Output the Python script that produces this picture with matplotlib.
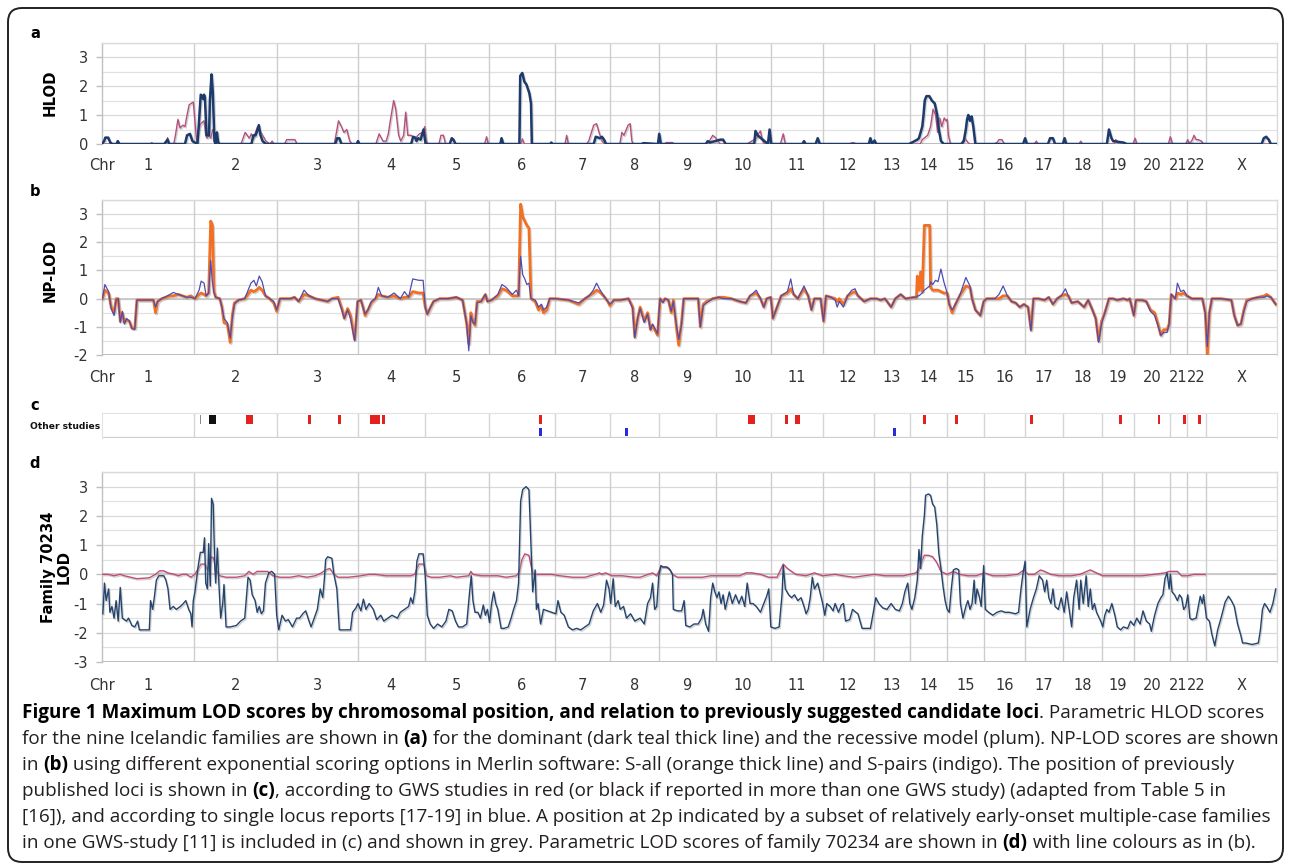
import numpy as np
import matplotlib
matplotlib.use("Agg")
import matplotlib.pyplot as plt
from matplotlib import transforms, font_manager
from matplotlib.patches import FancyBboxPatch
import matplotlib.patheffects as pe

plt.rcParams['axes.unicode_minus'] = False
plt.rcParams['font.family'] = ['DejaVu Sans']

# ---------------- data ----------------
chrom_names = ['1', '2', '3', '4', '5', '6', '7', '8', '9', '10', '11', '12', '13',
               '14', '15', '16', '17', '18', '19', '20', '21', '22', 'X']
# relative map length of each chromosome (genome map units)
chrom_len = [222, 200, 195, 161, 154, 159, 133, 118, 137, 133, 125, 123, 87,
             89, 89, 99, 92, 94, 77, 87, 41, 46, 171]

# (a) HLOD, dominant model
hlod_dominant = [
    (0, 0), (5, 0.1), (8, 0.22), (15, 0.22), (20, 0.05), (25, 0), (35, 0), (38, 0.1), (42, 0),
    (150, 0), (158, 0.15), (162, 0), (200, 0), (205, 0.3), (212, 0.35), (218, 0.1), (230, 0),
    (233, 0.6), (238, 1.7), (242, 1.65), (244, 1.55), (246, 1.7), (248, 1.6), (252, 0.3),
    (258, 0.3), (260, 1.5), (264, 2.4), (267, 1.8), (271, 0.1), (274, 0.0), (277, 0.4),
    (280, 0.05), (284, 0), (360, 0), (365, 0.3), (370, 0.3), (374, 0.45), (378, 0.65),
    (382, 0.3), (387, 0.1), (395, 0), (562, 0), (567, 0.2), (572, 0.2), (577, 0), (615, 0),
    (617, 0.1), (620, 0), (745, 0), (750, 0.25), (755, 0.22), (758, 0.1), (762, 0.2),
    (768, 0.15), (775, 0.5), (777, 0.3), (780, 0), (838, 0), (843, 0.2), (847, 0.15), (852, 0),
    (960, 0), (963, 0.2), (967, 0), (1006, 0), (1008, 2.35), (1013, 2.45), (1018, 2.15),
    (1023, 2.05), (1030, 1.75), (1034, 1.4), (1036, 0), (1080, 0), (1083, 0.05), (1086, 0),
    (1185, 0), (1190, 0.25), (1200, 0.2), (1205, 0.25), (1210, 0.15), (1215, 0), (1300, 0),
    (1305, 0.03), (1340, 0), (1343, 0.35), (1347, 0), (1455, 0), (1460, 0.1), (1465, 0.05),
    (1490, 0.15), (1497, 0.15), (1503, 0), (1572, 0), (1575, 0.45), (1580, 0.3), (1605, 0),
    (1609, 0.5), (1613, 0), (1688, 0), (1692, 0.1), (1696, 0), (1720, 0), (1725, 0.2),
    (1730, 0), (1848, 0), (1852, 0.2), (1856, 0.0), (1862, 0.12), (1866, 0), (1945, 0),
    (1952, 0.05), (1965, 0.15), (1969, 0.2), (1975, 0.5), (1977, 0.6), (1980, 1.0),
    (1983, 1.5), (1987, 1.65), (1994, 1.65), (2000, 1.5), (2007, 1.4), (2013, 1.0),
    (2017, 0.5), (2022, 0.1), (2029, 0), (2072, 0), (2077, 0.1), (2082, 0.5), (2085, 0.85),
    (2088, 1.0), (2092, 0.8), (2096, 0.95), (2100, 0.6), (2105, 0), (2220, 0), (2225, 0.2),
    (2229, 0), (2280, 0), (2285, 0.2), (2292, 0.2), (2297, 0), (2316, 0), (2320, 0.2),
    (2324, 0), (2422, 0), (2427, 0.5), (2433, 0.2), (2437, 0.1), (2447, 0.08), (2462, 0.05),
    (2470, 0), (2795, 0), (2800, 0.2), (2806, 0.25), (2812, 0.15), (2817, 0), (2832, 0)]

# (a) HLOD, recessive model
hlod_recessive = [
    (0, 0), (118, 0), (120, 0.05), (123, 0), (155, 0), (158, 0.22), (161, 0), (173, 0),
    (177, 0.3), (183, 0.85), (188, 0.55), (195, 0.65), (200, 0.6), (205, 1.0), (210, 1.35),
    (215, 1.4), (220, 1.45), (225, 0.6), (228, 0.1), (233, 0.5), (238, 0.7), (242, 0.75),
    (246, 0.8), (250, 0.3), (253, 0.2), (258, 0.3), (262, 0.2), (267, 0.5), (271, 0.4),
    (277, 0.05), (280, 0), (335, 0), (345, 0.4), (355, 0.2), (360, 0.35), (365, 0.2),
    (375, 0.6), (385, 0.35), (395, 0.1), (405, 0), (410, 0.1), (415, 0), (440, 0), (445, 0.15),
    (465, 0.15), (470, 0), (560, 0), (570, 0.8), (577, 0.6), (583, 0.4), (590, 0.5), (597, 0.1),
    (603, 0), (612, 0), (617, 0.1), (620, 0), (660, 0), (668, 0.35), (677, 0.1), (685, 0.1),
    (690, 0.35), (696, 0.9), (703, 1.5), (708, 1.2), (715, 0.3), (720, 0.1), (727, 0.3),
    (732, 1.1), (737, 0.3), (745, 0.3), (755, 0.2), (765, 0.35), (773, 0.4), (778, 0.6),
    (782, 0.1), (786, 0), (812, 0), (817, 0.3), (823, 0.3), (828, 0), (922, 0), (927, 0.25),
    (931, 0), (960, 0), (963, 0.15), (966, 0), (1010, 0), (1013, 0.18), (1018, 0), (1116, 0),
    (1120, 0.3), (1124, 0), (1168, 0), (1173, 0.1), (1185, 0.65), (1192, 0.7), (1198, 0.4),
    (1205, 0.1), (1212, 0), (1248, 0), (1253, 0.4), (1258, 0.3), (1268, 0.65), (1273, 0.7),
    (1277, 0.1), (1281, 0), (1355, 0), (1360, 0.05), (1375, 0.05), (1380, 0), (1460, 0),
    (1472, 0.3), (1480, 0.2), (1487, 0.05), (1490, 0), (1555, 0), (1560, 0.05), (1578, 0.2),
    (1582, 0.35), (1587, 0.45), (1592, 0.1), (1597, 0), (1635, 0), (1642, 0.35), (1647, 0),
    (1800, 0), (1810, 0.05), (1820, 0), (1972, 0), (1977, 0.15), (1990, 0.3), (1997, 0.6),
    (2003, 1.2), (2009, 1.0), (2014, 0.4), (2019, 0.9), (2024, 0.6), (2030, 0.9), (2034, 0.8),
    (2037, 0.85), (2040, 0.3), (2045, 0), (2070, 0), (2077, 0.15), (2080, 0.2), (2087, 0.05),
    (2092, 0), (2150, 0), (2157, 0.05), (2162, 0.15), (2169, 0.15), (2175, 0), (2247, 0),
    (2252, 0.1), (2256, 0), (2355, 0), (2359, 0.1), (2363, 0), (2440, 0), (2443, 0.15),
    (2447, 0.1), (2450, 0), (2485, 0), (2490, 0.2), (2494, 0), (2570, 0), (2575, 0.25),
    (2580, 0), (2612, 0), (2617, 0.15), (2621, 0), (2628, 0.15), (2632, 0.3), (2637, 0.15),
    (2642, 0.15), (2650, 0.1), (2655, 0), (2832, 0)]

# (b) NP-LOD: (position, S-all, S-pairs)
nplod_points = [
    (1, 0, 0), (7, 0.3, 0.5), (16, 0.2, 0.25), (22, -0.3, -0.35), (29, -0.5, -0.6), (34, 0, -0.05),
    (39, 0, 0), (44, -0.8, -0.85), (49, -0.5, -0.45), (54, -0.85, -0.9), (59, -0.75, -0.7),
    (66, -0.8, -0.8), (72, -1.05, -1.05), (79, -1.05, -1.1), (84, -0.05, -0.05), (124, -0.05, -0.05),
    (129, -0.5, -0.3), (134, -0.1, -0.1), (144, 0, 0), (164, 0.1, 0.15), (172, 0.1, 0.22),
    (184, 0.15, 0.15), (194, 0.1, 0.1), (204, 0.05, 0.05), (214, 0.1, 0.05), (224, 0, 0),
    (234, 0.15, 0.3), (239, 0.2, 0.62), (246, 0.15, 0.55), (251, 0.1, 0.1), (257, 0.2, 0.2),
    (262, 2.75, 1.35), (266, 2.6, 0.6), (270, 0.25, 0.2), (274, 0.05, 0.05), (284, 0, 0),
    (289, -0.3, -0.3), (294, -0.85, -0.7), (302, -0.9, -0.85), (309, -1.55, -1.4), (314, -0.6, -0.7),
    (319, -0.15, -0.2), (329, -0.05, -0.05), (344, 0, 0), (359, 0.3, 0.55), (366, 0.25, 0.65),
    (372, 0.3, 0.45), (379, 0.4, 0.8), (386, 0.3, 0.6), (394, 0.1, 0.1), (404, 0, 0),
    (414, -0.15, -0.1), (421, -0.45, -0.4), (429, 0, 0), (454, 0, 0), (464, 0.05, 0.05),
    (474, -0.1, -0.1), (487, 0.15, 0.3), (499, 0.1, 0.1), (514, 0, 0), (544, -0.1, -0.1),
    (554, 0, 0), (569, 0.05, 0), (579, -0.4, -0.45), (584, -0.7, -0.7), (592, -0.35, -0.4),
    (599, -0.6, -0.7), (609, -1.45, -1.5), (616, -0.1, -0.1), (624, -0.05, -0.05), (629, -0.3, -0.3),
    (634, -0.6, -0.55), (641, -0.4, -0.4), (649, -0.15, -0.1), (659, 0, 0), (666, 0.15, 0.4),
    (674, 0.1, 0.1), (689, 0.05, 0.05), (704, 0.1, 0.2), (719, 0, 0), (729, 0.05, 0.25),
    (739, 0.05, 0.05), (749, 0.25, 0.7), (764, 0.2, 0.65), (774, 0.2, 0.65), (779, -0.3, -0.3),
    (784, -0.55, -0.55), (792, -0.3, -0.3), (799, -0.1, -0.1), (814, 0, 0), (834, 0, 0),
    (854, 0.05, 0.05), (869, -0.05, -0.05), (879, -0.9, -0.9), (884, -1.6, -1.85), (889, -0.5, -0.6),
    (894, -0.8, -0.85), (899, -0.95, -0.9), (904, -0.1, -0.15), (914, -0.1, -0.1), (924, 0.15, 0.15),
    (929, -0.1, -0.1), (939, -0.05, -0.05), (954, 0.1, 0.15), (964, 0.35, 0.5), (974, 0.3, 0.4),
    (989, 0.1, 0.15), (999, 0.1, 0.3), (1004, 0.1, 0.1), (1009, 3.35, 1.5), (1014, 2.9, 0.85),
    (1019, 2.75, 0.7), (1024, 2.6, 0.5), (1029, 2.5, 0.55), (1034, 0, 0), (1044, -0.1, -0.05),
    (1052, -0.4, -0.3), (1059, -0.25, -0.2), (1064, -0.5, -0.4), (1072, -0.4, -0.3), (1079, 0, 0),
    (1094, 0, 0), (1124, -0.05, -0.05), (1149, -0.2, -0.15), (1164, 0, 0), (1174, 0.1, 0.1),
    (1184, 0.2, 0.3), (1192, 0.3, 0.55), (1199, 0.25, 0.35), (1209, 0.1, 0.1), (1219, -0.1, -0.1),
    (1224, -0.25, -0.2), (1234, -0.05, -0.05), (1249, -0.05, -0.05), (1269, 0, 0), (1279, -0.3, -0.35),
    (1284, -1.35, -1.4), (1291, -0.7, -0.7), (1297, -0.3, -0.35), (1307, -0.8, -0.85), (1315, -0.5, -0.55),
    (1322, -1.1, -1.1), (1327, -0.95, -0.9), (1332, -1.1, -1.05), (1339, -1.3, -1.25), (1345, 0, 0),
    (1352, -0.1, -0.15), (1357, 0, 0), (1365, -0.05, -0.05), (1372, -0.5, -0.45), (1377, -0.05, -0.1),
    (1385, -1.1, -1.0), (1390, -1.65, -1.45), (1397, -0.8, -0.9), (1402, 0, 0), (1437, 0, 0),
    (1442, -1.0, -1.0), (1449, -0.2, -0.25), (1457, -0.1, -0.15), (1472, 0, 0), (1487, 0.05, 0.05),
    (1497, 0.05, 0), (1517, 0, 0), (1537, -0.1, -0.1), (1552, -0.15, -0.15), (1562, 0.1, 0.1),
    (1577, 0.2, 0.3), (1587, 0, 0), (1595, -0.3, -0.3), (1602, 0, 0), (1612, 0.05, 0.05),
    (1617, -0.7, -0.7), (1622, -0.5, -0.5), (1637, 0.1, 0.1), (1652, 0.2, 0.25), (1660, 0.35, 0.7),
    (1667, 0.15, 0.15), (1677, 0, 0), (1692, 0.35, 0.45), (1702, 0.1, 0.1), (1710, -0.4, -0.4),
    (1717, 0, 0), (1732, 0, 0), (1739, -0.8, -0.8), (1745, 0.1, 0.1), (1757, 0.05, 0.05),
    (1767, 0, -0.05), (1772, -0.1, -0.3), (1777, 0, -0.1), (1787, -0.2, -0.3), (1797, 0.1, 0.1),
    (1807, 0.2, 0.3), (1815, 0.25, 0.35), (1822, 0.1, 0.1), (1837, -0.1, -0.1), (1852, 0, 0),
    (1867, 0, 0), (1877, -0.05, -0.05), (1887, 0, 0), (1902, -0.3, -0.3), (1912, 0, 0),
    (1925, 0.15, 0.15), (1937, 0, 0), (1957, 0.05, 0.05), (1963, 0.05, 0.05), (1965, 0.8, 0.1),
    (1969, 0.3, 0.1), (1973, 0.95, 0.15), (1977, 0.25, 0.2), (1982, 2.6, 0.3), (1995, 2.6, 0.45),
    (1997, 0.4, 0.6), (2002, 0.3, 0.5), (2009, 0.3, 0.65), (2015, 0.3, 0.6), (2022, 0.25, 1.05),
    (2029, 0.2, 0.6), (2037, 0.2, 0.2), (2042, -0.2, -0.2), (2049, -0.5, -0.4), (2057, -0.2, -0.2),
    (2067, 0.1, 0.1), (2082, 0.45, 0.75), (2092, 0.4, 0.45), (2097, 0, 0), (2105, -0.4, -0.4),
    (2117, -0.6, -0.6), (2125, -0.1, -0.1), (2132, 0, 0), (2152, 0, 0), (2162, 0, 0.15),
    (2172, 0.1, 0.45), (2182, 0.1, 0.1), (2192, -0.1, -0.1), (2202, -0.15, -0.15), (2212, -0.3, -0.3),
    (2222, -0.2, -0.2), (2232, -0.3, -0.3), (2239, -1.1, -1.15), (2245, 0, 0), (2257, 0, 0),
    (2272, -0.05, -0.05), (2282, 0.05, 0.05), (2292, -0.2, -0.2), (2302, 0, 0), (2312, 0.1, 0.1),
    (2322, 0.15, 0.35), (2329, 0.1, 0.1), (2337, -0.15, -0.15), (2352, -0.1, -0.1), (2367, -0.3, -0.3),
    (2377, -0.05, -0.05), (2387, -0.4, -0.4), (2395, -0.7, -0.7), (2402, -1.5, -1.55), (2409, -0.8, -0.9),
    (2417, -0.5, -0.5), (2427, 0, 0), (2437, 0, 0), (2447, -0.05, -0.05), (2462, 0, 0),
    (2472, -0.05, -0.05), (2477, 0, 0), (2487, -0.6, -0.6), (2492, -0.05, -0.05), (2507, -0.05, -0.05),
    (2517, -0.1, -0.1), (2527, -0.4, -0.45), (2537, -0.5, -0.6), (2545, -0.9, -0.95), (2552, -1.3, -1.3),
    (2559, -1.1, -1.2), (2567, -1.1, -1.2), (2572, -0.9, -0.9), (2577, 0.15, 0.15), (2587, 0, 0),
    (2592, 0.2, 0.55), (2600, 0.15, 0.25), (2607, 0.2, 0.3), (2615, 0.1, 0.1), (2627, 0, 0),
    (2652, 0, 0), (2659, -0.5, -0.5), (2664, -2.0, -1.7), (2669, -0.5, -0.5), (2675, 0, 0),
    (2697, 0, 0), (2722, -0.05, -0.05), (2729, -0.6, -0.6), (2737, -0.95, -0.95), (2745, -0.9, -0.9),
    (2752, -0.4, -0.45), (2759, -0.05, -0.1), (2772, 0, 0), (2787, 0.05, 0.05), (2802, 0.1, 0.05),
    (2807, 0.15, 0.1), (2817, 0.05, 0.05), (2829, -0.2, -0.2)]

# (c) previously reported loci (start, end) in map units
gws_red = [(346, 364), (496, 504), (569, 577), (647, 669), (674, 681), (1053, 1060),
           (1557, 1574), (1647, 1654), (1670, 1683), (1978, 1985), (2057, 2064),
           (2237, 2244), (2451, 2458), (2544, 2551), (2606, 2613), (2642, 2649)]
gws_black = [(257, 274)]
gws_grey = [(235, 238)]
single_locus_blue = [(1053, 1060), (1261, 1267), (1906, 1913)]

# (d) family 70234 LOD, dominant model
family_dominant = [
    (2, -1.35), (6, -0.3), (10, -0.9), (16, -0.5), (19, -1.3), (24, -1.1), (29, -1.5), (34, -0.9),
    (39, -1.6), (44, -0.45), (49, -1.5), (59, -1.6), (64, -1.5), (72, -1.75), (79, -1.8), (86, -1.6),
    (90, -1.9), (114, -1.9), (117, -0.9), (122, -1.2), (126, -0.8), (131, -0.2), (137, -0.05),
    (149, -0.05), (154, -0.2), (159, -0.5), (164, -1.2), (172, -1.1), (179, -1.2), (189, -1.1),
    (196, -1.0), (202, -0.9), (209, -1.2), (214, -1.35), (217, -1.8), (220, -0.9), (224, -0.6),
    (232, 0.3), (237, 0.75), (244, 0.75), (247, 1.25), (250, -0.3), (254, -0.5), (257, 1.05),
    (261, -0.4), (264, 2.6), (268, 2.4), (272, 0.2), (274, -0.3), (278, 0.9), (282, -0.4),
    (286, -1.5), (291, -1.0), (294, -0.35), (299, -1.8), (309, -1.8), (324, -1.75), (334, -1.6),
    (344, -1.5), (352, -0.1), (357, -0.2), (362, -0.7), (369, -0.9), (374, -1.3), (379, -1.1),
    (384, -1.35), (389, -1.25), (394, -0.3), (402, 0.05), (409, 0.1), (416, 0.0), (421, -1.4),
    (426, -1.9), (434, -1.4), (442, -1.6), (449, -1.55), (459, -1.8), (469, -1.5), (476, -1.5),
    (484, -1.35), (491, -1.25), (499, -1.6), (504, -1.8), (509, -1.6), (519, -1.2), (526, -0.5),
    (532, -0.8), (536, -0.15), (539, 0.5), (544, 0.6), (554, 0.55), (559, 0.0), (566, -0.5),
    (572, -1.9), (584, -1.9), (599, -1.9), (604, -1.3), (612, -1.15), (617, -1.0), (624, -1.25),
    (630, -0.85), (636, -1.2), (644, -1.0), (654, -1.2), (662, -1.55), (672, -1.4), (679, -1.6),
    (689, -1.5), (699, -1.4), (712, -1.5), (719, -1.3), (729, -1.2), (739, -1.1), (744, -0.8),
    (749, -1.0), (754, -0.6), (759, 0.45), (764, 0.7), (774, 0.7), (779, -0.05), (784, -1.4),
    (791, -1.7), (799, -1.85), (809, -1.7), (819, -1.8), (829, -1.6), (836, -1.2), (844, -1.25),
    (852, -1.6), (859, -1.8), (869, -1.8), (879, -1.7), (886, -0.6), (890, -0.05), (894, -0.9),
    (899, -1.3), (906, -1.3), (912, -1.5), (919, -1.05), (924, -1.4), (929, -1.2), (934, -1.65),
    (939, -1.0), (944, -0.6), (949, -1.0), (954, -1.2), (962, -1.85), (969, -1.85), (979, -1.8),
    (986, -1.5), (992, -1.2), (999, -0.9), (1004, -0.3), (1009, 2.5), (1014, 2.9), (1022, 3.0),
    (1029, 2.9), (1034, 1.0), (1038, -0.6), (1044, 0.15), (1047, -1.2), (1051, -1.0), (1057, -1.7),
    (1064, -1.2), (1074, -1.25), (1084, -1.3), (1094, -1.35), (1099, -0.9), (1106, -1.3),
    (1114, -1.4), (1124, -1.8), (1134, -1.9), (1144, -1.85), (1154, -1.9), (1164, -1.8),
    (1174, -1.7), (1184, -1.25), (1194, -1.0), (1202, -1.3), (1209, -1.05), (1216, -0.2),
    (1222, -0.5), (1226, -1.0), (1232, -0.15), (1237, -1.1), (1244, -0.9), (1249, -1.2),
    (1257, -1.1), (1264, -1.5), (1274, -1.35), (1284, -1.6), (1297, -1.5), (1307, -1.7),
    (1315, -1.0), (1322, -0.8), (1327, -0.3), (1332, -1.2), (1337, -1.1), (1342, -0.05),
    (1347, 0.3), (1352, 0.25), (1362, 0.25), (1369, 0.15), (1375, 0.0), (1377, -1.2), (1387, -1.25),
    (1397, -1.25), (1403, -0.9), (1407, -1.75), (1417, -1.8), (1427, -1.7), (1437, -1.7),
    (1445, -1.5), (1449, -1.2), (1455, -1.7), (1462, -1.95), (1467, -0.8), (1472, -0.3),
    (1477, -0.6), (1482, -0.8), (1487, -0.6), (1492, -1.0), (1497, -0.7), (1502, -1.2),
    (1507, -0.9), (1512, -0.6), (1519, -1.0), (1527, -0.7), (1535, -1.0), (1542, -0.75),
    (1549, -1.1), (1555, -0.3), (1562, -1.0), (1569, -1.0), (1577, -1.1), (1587, -1.3),
    (1595, -1.0), (1602, -0.75), (1607, -0.5), (1612, -1.8), (1622, -1.85), (1632, -1.8),
    (1639, -0.7), (1642, 0.3), (1647, -0.5), (1655, -0.7), (1662, -0.8), (1669, -0.7),
    (1677, -0.9), (1685, -0.8), (1692, -1.1), (1697, -1.35), (1702, -1.2), (1707, -0.8),
    (1712, -0.1), (1717, -0.5), (1725, -0.3), (1732, -0.7), (1737, -1.0), (1742, -1.4),
    (1747, -1.0), (1755, -1.1), (1762, -1.25), (1767, -1.0), (1775, -1.3), (1782, -1.05),
    (1787, -1.0), (1792, -1.6), (1802, -1.55), (1809, -1.2), (1817, -1.3), (1822, -1.35),
    (1832, -1.85), (1842, -1.85), (1852, -1.85), (1859, -1.3), (1865, -0.8), (1872, -1.0),
    (1882, -1.15), (1892, -1.2), (1902, -1.0), (1912, -1.2), (1922, -1.25), (1929, -1.0),
    (1935, -0.6), (1942, -0.3), (1947, -1.0), (1952, -1.2), (1959, -0.8), (1965, -0.2),
    (1969, 0.85), (1973, 0.2), (1977, 1.3), (1982, 2.0), (1985, 2.7), (1992, 2.75), (1997, 2.7),
    (2002, 2.4), (2007, 2.3), (2012, 1.7), (2017, 0.7), (2022, 0.2), (2027, -0.4), (2032, -0.9),
    (2037, -1.2), (2042, -1.3), (2047, -0.5), (2052, 0.15), (2059, 0.2), (2065, 0.15),
    (2069, -1.0), (2075, -1.5), (2082, -1.1), (2087, -0.9), (2092, -1.2), (2097, -1.0),
    (2102, -0.2), (2105, -1.0), (2109, -0.5), (2115, -0.8), (2119, -1.1), (2125, 0.3),
    (2129, -1.2), (2137, -1.3), (2147, -1.4), (2157, -1.3), (2167, -1.25), (2177, -1.3),
    (2187, -1.3), (2202, -1.35), (2209, -1.3), (2215, -0.5), (2220, 0.05), (2225, 0.45),
    (2229, -1.8), (2237, -1.2), (2245, -0.8), (2252, -0.5), (2259, -0.05), (2267, -0.2),
    (2272, -0.6), (2277, -0.2), (2282, -0.8), (2287, -1.0), (2292, -0.5), (2297, -1.1),
    (2305, -1.2), (2312, -0.8), (2319, -1.3), (2325, -0.6), (2332, -1.3), (2337, -1.8),
    (2342, -0.8), (2349, -0.2), (2355, -1.2), (2359, -0.2), (2365, -1.0), (2372, -0.05),
    (2377, -1.1), (2382, -0.5), (2387, -1.2), (2392, -1.0), (2397, -1.3), (2407, -1.6),
    (2412, -1.8), (2417, -1.4), (2422, -1.2), (2427, -1.3), (2434, -1.0), (2442, -1.45),
    (2447, -1.8), (2455, -1.9), (2462, -1.8), (2472, -1.85), (2479, -1.6), (2487, -1.75),
    (2494, -1.5), (2502, -1.7), (2509, -1.25), (2517, -1.6), (2525, -1.7), (2529, -1.95),
    (2537, -1.4), (2545, -1.0), (2552, -0.8), (2557, -0.7), (2562, -0.15), (2567, 0.05),
    (2572, -0.5), (2575, 0.0), (2579, -0.6), (2585, -0.7), (2592, -0.9), (2597, -0.7),
    (2602, -0.8), (2607, -1.2), (2612, -1.1), (2617, -0.7), (2622, -1.5), (2627, -1.55),
    (2637, -1.5), (2647, -0.75), (2652, -1.0), (2655, -0.7), (2662, -1.5), (2669, -1.6),
    (2675, -2.05), (2682, -2.45), (2689, -1.9), (2697, -1.5), (2707, -0.95), (2715, -0.75),
    (2722, -0.9), (2729, -1.1), (2737, -1.7), (2745, -2.1), (2749, -2.35), (2757, -2.35),
    (2772, -2.4), (2787, -2.35), (2792, -1.9), (2797, -1.2), (2802, -1.0), (2807, -1.1),
    (2815, -1.3), (2822, -1.0), (2829, -0.5)]

# (d) family 70234 LOD, recessive model (autosomes only)
family_recessive = [
    (2, 0.0), (14, 0.0), (29, -0.05), (44, 0.0), (54, -0.05), (84, -0.15), (114, -0.12), (129, 0.0),
    (139, 0.12), (149, 0.12), (159, 0.05), (174, 0.0), (184, -0.05), (194, 0.0), (204, 0.0),
    (214, -0.1), (224, 0.0), (232, 0.2), (239, 0.35), (249, 0.35), (254, 0.15), (259, 0.3),
    (264, 0.6), (269, 0.55), (274, 0.15), (284, -0.05), (299, -0.1), (324, -0.1), (344, -0.05),
    (354, 0.1), (364, 0.0), (374, 0.1), (384, 0.1), (399, 0.1), (412, -0.05), (429, -0.1),
    (454, -0.1), (474, -0.05), (494, -0.1), (514, -0.05), (529, 0.05), (539, 0.15), (549, 0.2),
    (559, 0.0), (569, -0.1), (594, -0.1), (624, -0.05), (644, 0.0), (659, 0.0), (684, -0.05),
    (699, -0.05), (719, -0.05), (744, -0.05), (754, 0.0), (759, 0.2), (764, 0.35), (776, 0.35),
    (782, -0.05), (794, -0.1), (814, -0.1), (839, -0.05), (854, -0.1), (884, -0.05), (889, 0.1),
    (894, 0.0), (914, -0.05), (954, -0.05), (974, -0.1), (999, -0.05), (1006, 0.1), (1012, 0.5),
    (1019, 0.7), (1029, 0.65), (1034, 0.3), (1039, 0.0), (1054, 0.0), (1084, 0.0), (1104, -0.05),
    (1134, -0.1), (1164, -0.1), (1189, 0.0), (1199, 0.05), (1204, 0.0), (1214, 0.05),
    (1229, -0.05), (1254, -0.05), (1284, -0.1), (1297, -0.1), (1317, 0.0), (1327, 0.05),
    (1337, -0.05), (1347, 0.25), (1357, 0.25), (1367, 0.2), (1375, 0.0), (1387, -0.1),
    (1407, -0.1), (1447, -0.1), (1467, -0.05), (1497, -0.05), (1537, -0.05), (1552, 0.05),
    (1567, 0.05), (1587, 0.0), (1607, -0.1), (1627, -0.1), (1642, 0.35), (1652, 0.2), (1662, 0.1),
    (1672, 0.0), (1697, -0.05), (1717, 0.05), (1737, -0.05), (1767, 0.0), (1787, -0.05),
    (1812, -0.1), (1837, -0.05), (1862, 0.0), (1887, -0.05), (1907, -0.05), (1932, -0.05),
    (1947, 0.0), (1962, 0.05), (1969, 0.2), (1982, 0.65), (1992, 0.65), (2002, 0.6), (2012, 0.4),
    (2022, 0.1), (2037, 0.0), (2052, 0.1), (2067, 0.0), (2087, -0.05), (2107, -0.05), (2127, 0.05),
    (2147, -0.05), (2177, -0.05), (2207, 0.0), (2222, 0.15), (2232, 0.0), (2247, 0.0), (2262, 0.15),
    (2272, 0.1), (2287, 0.0), (2307, -0.05), (2337, -0.05), (2357, 0.0), (2382, 0.15), (2397, 0.05),
    (2412, -0.05), (2447, -0.05), (2477, -0.05), (2507, -0.05), (2537, 0.0), (2562, 0.05),
    (2572, 0.1), (2592, 0.1), (2602, -0.05), (2617, -0.05), (2632, 0.0), (2659, 0.0)]

caption_lines = [
    [("Figure 1 Maximum LOD scores by chromosomal position, and relation to previously suggested candidate loci", True),
     (". Parametric HLOD scores", False)],
    [("for the nine Icelandic families are shown in ", False), ("(a)", True),
     (" for the dominant (dark teal thick line) and the recessive model (plum). NP-LOD scores are shown", False)],
    [("in ", False), ("(b)", True),
     (" using different exponential scoring options in Merlin software: S-all (orange thick line) and S-pairs (indigo). The position of previously", False)],
    [("published loci is shown in ", False), ("(c)", True),
     (", according to GWS studies in red (or black if reported in more than one GWS study) (adapted from Table 5 in", False)],
    [("[16]), and according to single locus reports [17-19] in blue. A position at 2p indicated by a subset of relatively early-onset multiple-case families", False)],
    [("in one GWS-study [11] is included in (c) and shown in grey. Parametric LOD scores of family 70234 are shown in ", False),
     ("(d)", True), (" with line colours as in (b).", False)],
]

# ---------------- figure ----------------
W, H = 1290, 866
fig = plt.figure(figsize=(W / 100, H / 100), dpi=100)
fig.patch.set_facecolor('white')

bounds = np.cumsum(chrom_len)
starts = bounds - np.array(chrom_len)
total = bounds[-1]
mids = (starts + bounds) / 2.0

X0, X1 = 102, 1277


def ax_at(top, bottom):
    return fig.add_axes([X0 / W, 1 - bottom / H, (X1 - X0) / W, (bottom - top) / H])


def fy(py):
    return 1 - py / H


shadow = [pe.SimpleLineShadow(offset=(0.8, -1.0), shadow_color='#9a9a9a', alpha=0.45), pe.Normal()]


def setup_line_axes(ax, ylo, yhi, label_y):
    ax.set_xlim(0, total)
    ax.set_ylim(ylo, yhi)
    for y in np.arange(ylo, yhi + 0.01, 0.5):
        ax.axhline(y, color='#e2e2e2' if abs(y - round(y)) > 0.01 else '#d9d9d9', lw=0.9, zorder=0)
    for b in bounds[:-1]:
        ax.axvline(b, color='#cdcdcd', lw=1.0, zorder=0.5)
    ax.axhline(ylo, color='#bdbdbd', lw=1.4, zorder=1)
    if ylo < 0:
        ax.axhline(0, color='#c4c4c4', lw=1.2, zorder=1)
    for s in ['top', 'right']:
        ax.spines[s].set_color('#dadada')
        ax.spines[s].set_linewidth(1.0)
    ax.spines['bottom'].set_visible(False)
    ax.spines['left'].set_color('#c0c0c0')
    ax.spines['left'].set_linewidth(1.0)
    ax.set_xticks([])
    ax.set_yticks(np.arange(int(np.ceil(ylo)), int(np.floor(yhi)) + 1))
    ax.tick_params(axis='y', length=4, width=1, color='#c0c0c0', pad=6,
                   labelsize=10.5, labelcolor='#333333')
    tr = transforms.blended_transform_factory(ax.transData, fig.transFigure)
    ax.text(0, fy(label_y), 'Chr', transform=tr, ha='center', va='center', fontsize=10.5, color='#333333')
    for m, n in zip(mids, chrom_names):
        ax.text(m, fy(label_y), n, transform=tr, ha='center', va='center', fontsize=10.5, color='#333333')


def xy(points):
    arr = np.array(points, dtype=float)
    return arr[:, 0], arr[:, 1]


# panel a
ax_a = ax_at(42.5, 144)
setup_line_axes(ax_a, 0, 3.5, 166)
x, y = xy(hlod_recessive)
ax_a.plot(x, y, color='#b5507d', lw=1.0, zorder=3, path_effects=shadow)
x, y = xy(hlod_dominant)
ax_a.plot(x, y, color='#1c3a6b', lw=1.8, zorder=4, path_effects=shadow)

# panel b
ax_b = ax_at(200, 355)
setup_line_axes(ax_b, -2, 3.5, 378)
arr = np.array(nplod_points, dtype=float)
ax_b.plot(arr[:, 0], arr[:, 1], color='#f36f21', lw=2.0, zorder=3, path_effects=shadow)
ax_b.plot(arr[:, 0], arr[:, 2], color='#4c4cb4', lw=0.9, zorder=4)

# panel c
ax_c = ax_at(413, 438)
ax_c.set_xlim(0, total)
ax_c.set_ylim(0, 1)
for b in bounds[:-1]:
    ax_c.axvline(b, color='#d6d6d6', lw=1.0, zorder=0)
ax_c.axhline(0, color='#cfcfcf', lw=1.6, zorder=1)
for s in ['top', 'right', 'left']:
    ax_c.spines[s].set_color('#e2e2e2')
ax_c.spines['bottom'].set_visible(False)
ax_c.set_xticks([])
ax_c.set_yticks([])
ax_c.broken_barh([(s, e - s) for s, e in gws_red], (0.58, 0.34), facecolors='#e3221f', zorder=3)
ax_c.broken_barh([(s, e - s) for s, e in gws_black], (0.58, 0.34), facecolors='#111111', zorder=3)
ax_c.broken_barh([(s, e - s) for s, e in gws_grey], (0.58, 0.34), facecolors='#8a8a8a', zorder=3)
ax_c.broken_barh([(s, e - s) for s, e in single_locus_blue], (0.08, 0.34), facecolors='#2b2bdc', zorder=3)
fig.text(100 / W, fy(426), 'Other studies', ha='right', va='center', fontsize=6.6,
         fontweight='bold', color='#111111')

# panel d
ax_d = ax_at(472, 662)
setup_line_axes(ax_d, -3, 3.5, 685)
x, y = xy(family_recessive)
ax_d.plot(x, y, color='#c14d78', lw=1.0, zorder=3, path_effects=shadow)
x, y = xy(family_dominant)
ax_d.plot(x, y, color='#24446e', lw=1.0, zorder=4, path_effects=shadow)

# panel letters and y labels
for letter, py in [('a', 34), ('b', 192), ('c', 406), ('d', 464)]:
    fig.text(35 / W, fy(py), letter, ha='center', va='center', fontsize=10.5, fontweight='bold')
fig.text(50 / W, fy(93), 'HLOD', rotation=90, ha='center', va='center', fontsize=10.7, fontweight='bold')
fig.text(50 / W, fy(270), 'NP-LOD', rotation=90, ha='center', va='center', fontsize=10.7, fontweight='bold')
fig.text(48 / W, fy(567), 'Family 70234', rotation=90, ha='center', va='center', fontsize=10.7, fontweight='bold')
fig.text(64 / W, fy(567), 'LOD', rotation=90, ha='center', va='center', fontsize=10.7, fontweight='bold')


# caption
def font_has(name, bold):
    for f in font_manager.fontManager.ttflist:
        if f.name == name:
            w = f.weight
            if isinstance(w, str):
                w = {'bold': 700, 'semibold': 600, 'heavy': 800, 'black': 900}.get(w.lower(), 400)
            if (w >= 600) == bold:
                return True
    return False


cap_font = 'DejaVu Sans'
for cand in ['Open Sans', 'Noto Sans', 'Lato', 'Liberation Sans']:
    if font_has(cand, False) and font_has(cand, True):
        cap_font = cand
        break

renderer = fig.canvas.get_renderer()


def twidth(s, size, bold):
    t = fig.text(0, 0, s + '|', fontsize=size, fontweight='bold' if bold else 'normal', family=cap_font)
    w1 = t.get_window_extent(renderer).width
    t.set_text('|')
    w2 = t.get_window_extent(renderer).width
    t.remove()
    return w1 - w2


ref_w = sum(twidth(s, 10, b) for s, b in caption_lines[1])
cap_size = 10 * (1272 - 22) / ref_w

for i, line in enumerate(caption_lines):
    xp = 22.0
    base = 718 + i * 26.0
    for s, b in line:
        fig.text(xp / W, fy(base), s, fontsize=cap_size, family=cap_font,
                 fontweight='bold' if b else 'normal', ha='left', va='baseline',
                 color='#000000' if b else '#231f20')
        xp += twidth(s, cap_size, b)

# outer rounded frame
frame = FancyBboxPatch((8, 4), 1275, 854, boxstyle='round,pad=0,rounding_size=14',
                       transform=transforms.IdentityTransform(), facecolor='none',
                       edgecolor='#222222', lw=1.4)
fig.patches.append(frame)

fig.savefig('out.png', dpi=100, facecolor='white')
